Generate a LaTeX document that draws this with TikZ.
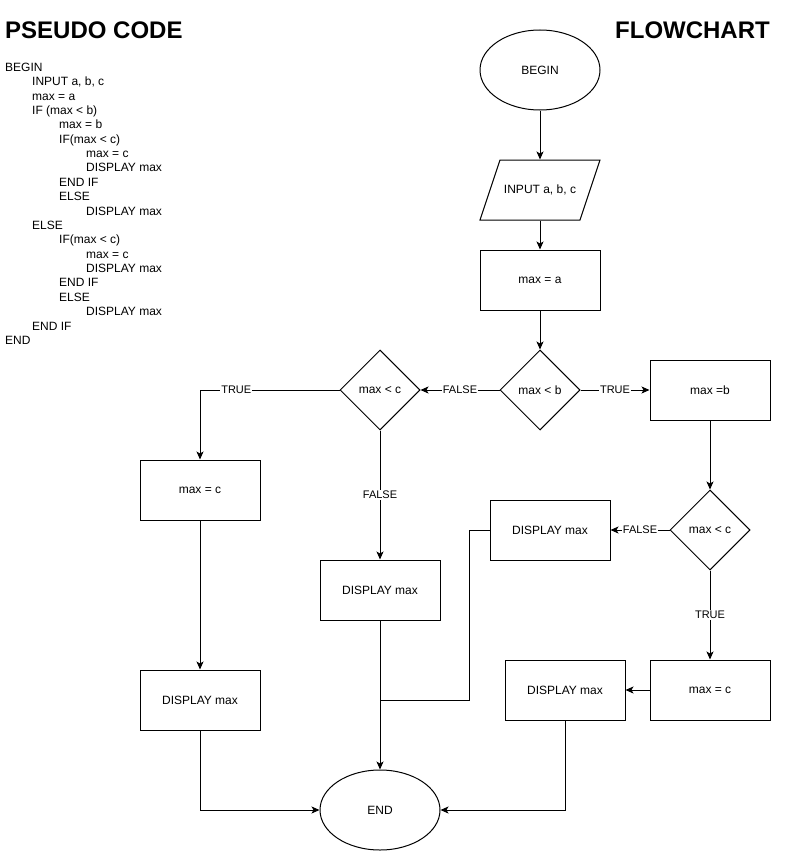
\documentclass[tikz,border=0pt]{standalone}
\usepackage{fontspec}
\setmainfont{Liberation Sans}
\usetikzlibrary{shapes.geometric,arrows.meta}
\begin{document}
\begin{tikzpicture}[x=1pt,y=-1pt,
  lw/.style={line width=1pt},
  box/.style={draw,line width=1pt,minimum width=120pt,minimum height=60pt,inner sep=0pt,font=\fontsize{12}{14}\selectfont},
  dec/.style={draw,diamond,line width=1pt,minimum width=80pt,minimum height=80pt,inner sep=0pt,font=\fontsize{12}{14}\selectfont},
  term/.style={draw,ellipse,line width=1pt,minimum width=120pt,minimum height=80pt,inner sep=0pt,font=\fontsize{12}{14}\selectfont},
  arr/.style={line width=1pt,-{Stealth[length=8pt,width=7pt,inset=2pt]}},
  lbl/.style={fill=white,inner sep=1pt,font=\fontsize{11}{13}\selectfont},
  code/.style={anchor=base west,inner sep=0pt,font=\fontsize{12}{14}\selectfont},
  ttl/.style={inner sep=0pt,font=\fontsize{24}{28}\selectfont\bfseries}]
\useasboundingbox (0,0) rectangle (801,851);

% titles
\node[ttl,anchor=base west] (t1) at (5,38.6) {PSEUDO CODE};
\node[ttl,anchor=base east] (t2) at (770,38.6) {FLOWCHART};

% pseudo code
\node[code] (c1)  at (5,71.3)  {BEGIN};
\node[code] (c2)  at (32,85.7) {INPUT a, b, c};
\node[code] (c3)  at (32,100.0) {max = a};
\node[code] (c4)  at (32,114.4) {IF (max < b)};
\node[code] (c5)  at (59,128.8) {max = b};
\node[code] (c6)  at (59,143.2) {IF(max < c)};
\node[code] (c7)  at (86,157.5) {max = c};
\node[code] (c8)  at (86,171.9) {DISPLAY max};
\node[code] (c9)  at (59,186.3) {END IF};
\node[code] (c10) at (59,200.6) {ELSE};
\node[code] (c11) at (86,215.0) {DISPLAY max};
\node[code] (c12) at (32,229.4) {ELSE};
\node[code] (c13) at (59,243.7) {IF(max < c)};
\node[code] (c14) at (86,258.1) {max = c};
\node[code] (c15) at (86,272.5) {DISPLAY max};
\node[code] (c16) at (59,286.8) {END IF};
\node[code] (c17) at (59,301.2) {ELSE};
\node[code] (c18) at (86,315.6) {DISPLAY max};
\node[code] (c19) at (32,330.0) {END IF};
\node[code] (c20) at (5,344.3)  {END};

% flowchart nodes
\node[term] (begin) at (540,70) {BEGIN};
\node[box,draw=none] (inp) at (540,190) {INPUT a, b, c};
\draw[lw] (500,160) -- (600,160) -- (580,220) -- (480,220) -- cycle;
\node[box] (ma) at (540,280) {max = a};
\node[dec] (db) at (540,390) {max < b};
\node[dec] (dc) at (380,390) {max < c};
\node[box] (mb) at (710,390) {max =b};
\node[box] (mc1) at (200,490) {max = c};
\node[box] (dp1) at (380,590) {DISPLAY max};
\node[dec] (dc2) at (710,530) {max < c};
\node[box] (dp2) at (550,530) {DISPLAY max};
\node[box] (mc2) at (710,690) {max = c};
\node[box] (dp3) at (565,690) {DISPLAY max};
\node[box] (dp4) at (200,700) {DISPLAY max};
\node[term] (end) at (380,810) {END};
\coordinate (j) at (380,700);

% connectors
\draw[arr] (begin) -- (inp);
\draw[arr] (inp) -- (ma);
\draw[arr] (ma) -- (db);
\draw[arr] (db) -- node[lbl]{TRUE} (mb);
\draw[arr] (db) -- node[lbl]{FALSE} (dc);
\draw[arr] (dc.west) -| node[lbl,pos=0.37]{TRUE} (mc1.north);
\draw[arr] (dc) -- node[lbl]{FALSE} (dp1);
\draw[arr] (mb) -- (dc2);
\draw[arr] (dc2) -- node[lbl]{FALSE} (dp2);
\draw[arr] (dc2) -- node[lbl]{TRUE} (mc2);
\draw[arr] (mc2) -- (dp3);
\draw[arr] (mc1) -- (dp4);
\draw[arr] (dp4.south) |- (end.west);
\draw[arr] (dp3.south) |- (end.east);
\draw[arr] (dp1) -- (end);
\draw[lw] (dp2.west) -- ++(-20,0) |- (j);
\end{tikzpicture}
\end{document}
